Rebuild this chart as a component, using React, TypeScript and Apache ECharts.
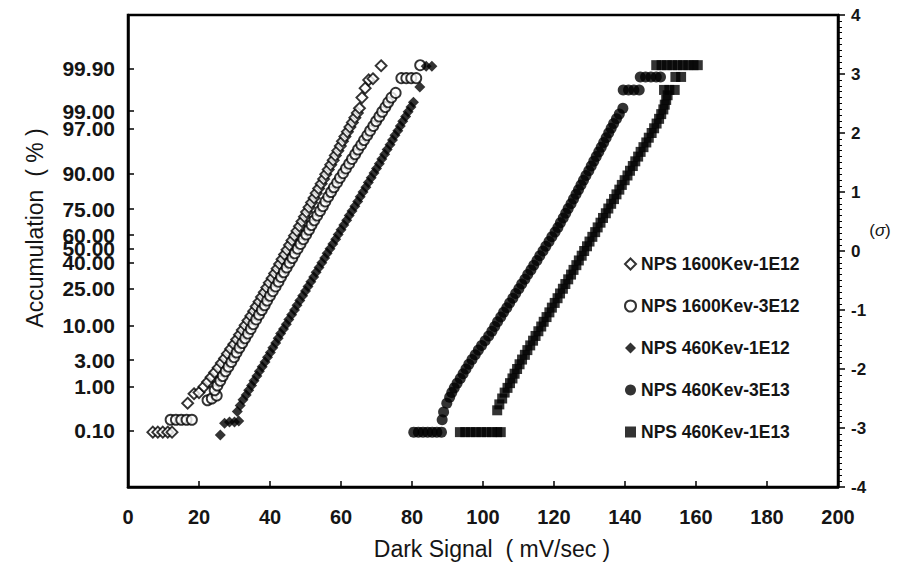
import React, { useEffect, useRef } from "react";
import * as echarts from "echarts";

// Legend / series names
const seriesNames = [
  "NPS 1600Kev-1E12",
  "NPS 1600Kev-3E12",
  "NPS 460Kev-1E12",
  "NPS 460Kev-3E13",
  "NPS 460Kev-1E13",
];

// Left axis: cumulative percentage labels and their positions on the sigma scale
const leftTickLabels = ["0.10", "1.00", "3.00", "10.00", "25.00", "40.00", "50.00", "60.00", "75.00", "90.00", "97.00", "99.00", "99.90"];
const leftTickSigmas = [-3.05, -2.3, -1.85, -1.26, -0.64, -0.2, 0.04, 0.27, 0.71, 1.31, 2.08, 2.37, 3.09];

// Points: [dark signal (mV/sec), sigma]
const s1600_1E12: number[][] = [
  [7.0, -3.07], [8.4, -3.07], [9.8, -3.07], [11.2, -3.07], [12.4, -3.07],
  [16.8, -2.58], [18.6, -2.42], [20.0, -2.4], [21.4, -2.3], [22.4, -2.22], [23.4, -2.14], [24.4, -2.06],
  [25.4, -1.98], [26.3, -1.9], [27.2, -1.82], [28.0, -1.74], [28.9, -1.66], [29.8, -1.58], [30.6, -1.5],
  [31.4, -1.42], [32.2, -1.34], [33.0, -1.26], [33.8, -1.18], [34.6, -1.1], [35.4, -1.02], [36.1, -0.94],
  [36.9, -0.86], [37.6, -0.78], [38.4, -0.7], [39.1, -0.62], [39.8, -0.54], [40.6, -0.46], [41.3, -0.38],
  [42.0, -0.3], [42.7, -0.22], [43.4, -0.14], [44.1, -0.06], [44.8, 0.02], [45.5, 0.1], [46.2, 0.18],
  [46.9, 0.26], [47.6, 0.34], [48.3, 0.42], [49.0, 0.5], [49.7, 0.58], [50.3, 0.66], [51.0, 0.74],
  [51.7, 0.82], [52.4, 0.9], [53.0, 0.98], [53.7, 1.06], [54.4, 1.14], [55.1, 1.22], [55.7, 1.3],
  [56.4, 1.38], [57.1, 1.46], [57.8, 1.54], [58.4, 1.62], [59.1, 1.7], [59.8, 1.78], [60.4, 1.86],
  [61.1, 1.94], [61.8, 2.02], [62.5, 2.1], [63.2, 2.18], [63.9, 2.26], [64.6, 2.34], [65.2, 2.42],
  [65.9, 2.6], [66.8, 2.76], [67.8, 2.9], [69.0, 2.92], [71.3, 3.14],
];

const s1600_3E12: number[][] = [
  [12.0, -2.86], [13.5, -2.86], [15.0, -2.86], [16.5, -2.86], [18.0, -2.86],
  [22.4, -2.53], [23.6, -2.5], [25.0, -2.45], [24.4, -2.36], [25.2, -2.28], [26.0, -2.2], [26.7, -2.12],
  [27.5, -2.04], [28.3, -1.96], [29.1, -1.88], [29.9, -1.8], [30.6, -1.72], [31.4, -1.64], [32.2, -1.56],
  [33.0, -1.48], [33.8, -1.4], [34.6, -1.32], [35.3, -1.24], [36.1, -1.16], [36.9, -1.08], [37.7, -1.0],
  [38.5, -0.92], [39.2, -0.84], [40.0, -0.76], [40.8, -0.68], [41.6, -0.6], [42.4, -0.52], [43.1, -0.44],
  [43.9, -0.36], [44.7, -0.28], [45.5, -0.2], [46.3, -0.12], [47.0, -0.04], [47.8, 0.04], [48.6, 0.12],
  [49.4, 0.2], [50.2, 0.28], [51.0, 0.36], [51.7, 0.44], [52.5, 0.52], [53.3, 0.6], [54.1, 0.68],
  [54.9, 0.76], [55.6, 0.84], [56.4, 0.92], [57.2, 1.0], [58.0, 1.08], [58.9, 1.16], [59.7, 1.24],
  [60.6, 1.32], [61.4, 1.4], [62.3, 1.48], [63.1, 1.56], [64.0, 1.64], [64.8, 1.72], [65.7, 1.8],
  [66.5, 1.88], [67.4, 1.96], [68.2, 2.04], [69.1, 2.12], [69.9, 2.2], [70.8, 2.28], [71.6, 2.36],
  [72.5, 2.44], [73.3, 2.52], [74.2, 2.6], [75.4, 2.68],
  [77.0, 2.93], [78.4, 2.93], [79.8, 2.93], [81.2, 2.93], [82.3, 3.15],
];

const s460_1E12: number[][] = [
  [26.0, -3.12], [27.2, -2.92], [28.6, -2.9], [30.0, -2.9], [31.2, -2.88],
  [30.8, -2.72], [31.6, -2.62], [32.4, -2.52], [33.3, -2.44], [34.0, -2.36], [34.8, -2.28], [35.5, -2.2],
  [36.3, -2.12], [37.0, -2.04], [37.8, -1.96], [38.6, -1.88], [39.3, -1.8], [40.1, -1.72], [40.8, -1.64],
  [41.6, -1.56], [42.3, -1.48], [43.0, -1.4], [43.8, -1.32], [44.6, -1.24], [45.3, -1.16], [46.1, -1.08],
  [46.9, -1.0], [47.6, -0.92], [48.4, -0.84], [49.2, -0.76], [50.0, -0.68], [50.7, -0.6], [51.5, -0.52],
  [52.3, -0.44], [53.0, -0.36], [53.8, -0.28], [54.6, -0.2], [55.4, -0.12], [56.1, -0.04], [56.9, 0.04],
  [57.7, 0.12], [58.5, 0.2], [59.2, 0.28], [60.0, 0.36], [60.8, 0.44], [61.6, 0.52], [62.3, 0.6],
  [63.1, 0.68], [63.9, 0.76], [64.7, 0.84], [65.4, 0.92], [66.2, 1.0], [67.0, 1.08], [67.7, 1.16],
  [68.5, 1.24], [69.3, 1.32], [70.0, 1.4], [70.8, 1.48], [71.5, 1.56], [72.3, 1.64], [73.0, 1.72],
  [73.8, 1.8], [74.5, 1.88], [75.2, 1.96], [76.0, 2.04], [76.7, 2.12], [77.4, 2.2], [78.2, 2.28],
  [78.9, 2.36], [79.7, 2.44], [80.4, 2.52], [82.2, 2.78], [84.0, 3.13], [85.6, 3.13],
];

const s460_3E13: number[][] = [
  [80.5, -3.07], [81.8, -3.07], [83.1, -3.07], [84.4, -3.07], [85.7, -3.07], [87.0, -3.07], [88.3, -3.07],
  [88.5, -2.86], [88.9, -2.73], [89.8, -2.58], [90.6, -2.48], [91.2, -2.4], [91.9, -2.32], [92.7, -2.24],
  [93.6, -2.16], [94.4, -2.08], [95.2, -2.0], [96.0, -1.92], [96.9, -1.84], [97.8, -1.76], [98.7, -1.68],
  [99.6, -1.6], [100.6, -1.52], [101.6, -1.44], [102.5, -1.36], [103.3, -1.28], [104.1, -1.2], [105.0, -1.12],
  [105.8, -1.04], [106.7, -0.96], [107.5, -0.88], [108.4, -0.8], [109.2, -0.72], [110.1, -0.64], [110.9, -0.56],
  [111.8, -0.48], [112.6, -0.4], [113.5, -0.32], [114.3, -0.24], [115.2, -0.16], [116.0, -0.08], [116.9, 0.0],
  [117.7, 0.08], [118.6, 0.16], [119.4, 0.24], [120.3, 0.32], [121.1, 0.4], [121.8, 0.48], [122.6, 0.56],
  [123.3, 0.64], [124.0, 0.72], [124.8, 0.8], [125.5, 0.88], [126.2, 0.96], [126.9, 1.04], [127.6, 1.12],
  [128.3, 1.2], [129.0, 1.28], [129.8, 1.36], [130.5, 1.44], [131.2, 1.52], [131.9, 1.6], [132.6, 1.68],
  [133.3, 1.76], [134.0, 1.84], [134.7, 1.92], [135.4, 2.0], [136.1, 2.08], [136.8, 2.16], [137.6, 2.24],
  [138.4, 2.32], [139.4, 2.42],
  [139.5, 2.73], [141.0, 2.73], [142.5, 2.73], [144.0, 2.73],
  [144.3, 2.95], [145.8, 2.95], [147.3, 2.95], [148.8, 2.95], [150.0, 2.95],
];

const s460_1E13: number[][] = [
  [93.5, -3.07], [95.0, -3.07], [96.5, -3.07], [98.0, -3.07], [99.5, -3.07], [101.0, -3.07], [102.5, -3.07],
  [104.0, -3.07], [105.0, -3.07],
  [104.0, -2.7], [104.6, -2.6], [105.4, -2.5], [106.1, -2.4], [106.9, -2.32], [107.6, -2.24], [108.3, -2.16],
  [108.9, -2.08], [109.6, -2.0], [110.3, -1.92], [111.0, -1.84], [111.8, -1.76], [112.5, -1.68], [113.3, -1.6],
  [114.1, -1.52], [114.8, -1.44], [115.6, -1.36], [116.4, -1.28], [117.1, -1.2], [117.9, -1.12], [118.7, -1.04],
  [119.4, -0.96], [120.2, -0.88], [121.0, -0.8], [121.7, -0.72], [122.5, -0.64], [123.2, -0.56], [124.0, -0.48],
  [124.8, -0.4], [125.5, -0.32], [126.3, -0.24], [127.0, -0.16], [127.8, -0.08], [128.5, 0.0], [129.3, 0.08],
  [130.0, 0.16], [130.8, 0.24], [131.6, 0.32], [132.3, 0.4], [133.1, 0.48], [133.8, 0.56], [134.6, 0.64],
  [135.3, 0.72], [136.1, 0.8], [136.9, 0.88], [137.6, 0.96], [138.4, 1.04], [139.1, 1.12], [139.9, 1.2],
  [140.7, 1.28], [141.4, 1.36], [142.2, 1.44], [142.9, 1.52], [143.7, 1.6], [144.4, 1.68], [145.2, 1.76],
  [146.0, 1.84], [146.7, 1.92], [147.5, 2.0], [148.2, 2.08], [148.9, 2.16], [149.6, 2.24], [150.2, 2.32],
  [150.8, 2.4], [151.2, 2.48], [151.6, 2.56], [152.0, 2.64],
  [151.0, 2.73], [152.5, 2.73], [154.0, 2.73],
  [154.2, 2.95], [155.8, 2.95],
  [148.8, 3.15], [150.3, 3.15], [151.8, 3.15], [153.3, 3.15], [154.8, 3.15], [156.3, 3.15], [157.8, 3.15],
  [159.3, 3.15], [160.5, 3.15],
];

const FONT = '"Liberation Sans", Arial, Helvetica, sans-serif';
const INK = "#151515";

export default function App() {
  const ref = useRef<HTMLDivElement>(null);

  useEffect(() => {
    if (!ref.current) return;
    const chart = echarts.init(ref.current, null, { renderer: "svg" });

    const openStyle = { color: "#fff", borderColor: "#000", borderWidth: 1.9 };
    const fillStyle = { color: "#000", borderColor: "#000", borderWidth: 0 };
    const mk = (name: string, data: number[][], symbol: string, size: number, filled: boolean) => ({
      name,
      type: "scatter",
      data,
      symbol,
      symbolSize: size,
      itemStyle: filled ? fillStyle : openStyle,
      emphasis: { disabled: true },
      silent: true,
    });

    const labelFor = (v: number) => {
      for (let i = 0; i < leftTickSigmas.length; i++) {
        if (Math.abs(leftTickSigmas[i] - v) < 1e-6) return leftTickLabels[i];
      }
      return "";
    };

    chart.setOption({
      animation: false,
      backgroundColor: "#fff",
      grid: {
        left: 128,
        right: 59,
        top: 15,
        bottom: 80,
        show: true,
        borderColor: "#000",
        borderWidth: 2.5,
        backgroundColor: "transparent",
      },
      xAxis: {
        type: "value",
        min: 0,
        max: 200,
        interval: 20,
        axisLine: { show: true, onZero: false, lineStyle: { color: "#000", width: 2.5 } },
        axisTick: { show: true, inside: true, length: 6, lineStyle: { color: "#000", width: 1.5 } },
        axisLabel: { color: INK, fontSize: 20, fontWeight: "bold", fontFamily: FONT, margin: 20 },
        splitLine: { show: false },
      },
      yAxis: [
        {
          type: "value",
          min: -4,
          max: 4,
          position: "left",
          axisLine: { show: true, onZero: false, lineStyle: { color: "#000", width: 2.5 } },
          axisTick: {
            show: true,
            inside: true,
            length: 6,
            customValues: leftTickSigmas,
            lineStyle: { color: "#000", width: 1.5 },
          },
          axisLabel: {
            customValues: leftTickSigmas,
            formatter: (v: number) => labelFor(v),
            color: INK,
            fontSize: 21,
            fontWeight: "bold",
            fontFamily: FONT,
            margin: 13,
          },
          splitLine: { show: false },
        },
        {
          type: "value",
          min: -4,
          max: 4,
          interval: 1,
          position: "right",
          axisLine: { show: true, onZero: false, lineStyle: { color: "#000", width: 2.5 } },
          axisTick: { show: true, inside: false, length: 7, lineStyle: { color: "#000", width: 1.5 } },
          minorTick: { show: true, splitNumber: 10, length: 4, lineStyle: { color: "#000", width: 1 } },
          axisLabel: { color: INK, fontSize: 17, fontWeight: "bold", fontFamily: FONT, margin: 13 },
          splitLine: { show: false },
        },
      ],
      legend: {
        data: seriesNames,
        orient: "vertical",
        left: 619,
        top: 250,
        itemWidth: 11,
        itemHeight: 11,
        itemGap: 24,
        selectedMode: false,
        textStyle: { color: INK, fontSize: 17.5, fontWeight: "bold", fontFamily: FONT, lineHeight: 17 },
      },
      graphic: [
        {
          type: "text",
          x: 35,
          y: 228,
          rotation: Math.PI / 2,
          style: {
            text: "Accumulation  ( % )",
            fill: INK,
            font: `23px ${FONT}`,
            textAlign: "center",
            textVerticalAlign: "middle",
          },
        },
        {
          type: "text",
          x: 492,
          y: 549,
          style: {
            text: "Dark Signal  ( mV/sec )",
            fill: INK,
            font: `23px ${FONT}`,
            textAlign: "center",
            textVerticalAlign: "middle",
          },
        },
        {
          type: "text",
          x: 880,
          y: 230,
          style: {
            text: "({s|σ})",
            fill: INK,
            font: `17px ${FONT}`,
            textAlign: "center",
            textVerticalAlign: "middle",
            rich: { s: { fontStyle: "italic", fontSize: 17, fontFamily: FONT, fill: INK } },
          },
        },
      ],
      series: [
        mk(seriesNames[0], s1600_1E12, "diamond", 11, false),
        mk(seriesNames[1], s1600_3E12, "circle", 10, false),
        mk(seriesNames[2], s460_1E12, "diamond", 11, true),
        mk(seriesNames[3], s460_3E13, "circle", 11, true),
        mk(seriesNames[4], s460_1E13, "rect", 10, true),
      ],
    });

    return () => chart.dispose();
  }, []);

  return (
    <div
      ref={ref}
      style={{ position: "absolute", left: 0, top: 0, width: 897, height: 567, background: "#fff" }}
    />
  );
}
